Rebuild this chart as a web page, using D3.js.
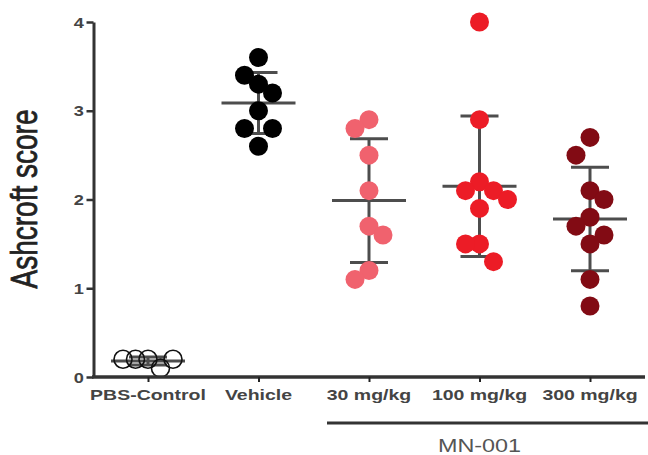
<!DOCTYPE html>
<html lang="en">
<head>
<meta charset="utf-8">
<title>Ashcroft score</title>
<script src="https://cdn.jsdelivr.net/npm/d3@7"></script>
<style>
  body { margin: 0; background: #fff; }
  text { font-family: "Liberation Sans", Arial, sans-serif; }
</style>
</head>
<body>
<script>
// groups on the x axis
var categories = ["PBS-Control", "Vehicle", "30 mg/kg", "100 mg/kg", "300 mg/kg"];

// Ashcroft score of each animal
var pbsValues     = [0.2, 0.2, 0.1, 0.2, 0.2];
var vehicleValues = [3.6, 3.4, 3.3, 3.2, 3.0, 2.8, 2.8, 2.6];
var mn30Values    = [2.9, 2.8, 2.5, 2.1, 1.7, 1.6, 1.2, 1.1];
var mn100Values   = [4.0, 2.9, 2.2, 2.1, 2.1, 2.0, 1.9, 1.5, 1.5, 1.3];
var mn300Values   = [2.7, 2.5, 2.1, 2.0, 1.8, 1.7, 1.6, 1.5, 1.1, 0.8];

var groupValues = [pbsValues, vehicleValues, mn30Values, mn100Values, mn300Values];
var groupColors = ["none", "#000000", "#f0626e", "#ec1c26", "#820b14"];

var yTicks = [0, 1, 2, 3, 4];
var yLabel = "Ashcroft score";
var bracketLabel = "MN-001";
var bracketGroups = ["30 mg/kg", "100 mg/kg", "300 mg/kg"];

var w = 648, h = 455;
var stretch = 1.3;   // the text in the picture is drawn wide
var r = 9.5;

var svg = d3.select("body").append("svg")
    .attr("width", w)
    .attr("height", h);

var yScale = d3.scaleLinear().domain([0, 4]).range([377, 22]);
var xScale = d3.scalePoint().domain(categories).range([148, 590]);

// simple scatter layout: points close in y may not share x
function swarm(values) {
    var W = 14, H = 20;
    var placed = [];
    var side = -1;
    values.forEach(function(v) {
        var yv = yScale(v);
        var ints = placed.filter(function(p) { return Math.abs(p.y - yv) < H; })
            .map(function(p) { return [p.dx - W, p.dx + W]; });
        var cands = [0];
        ints.forEach(function(i) { cands.push(i[0], i[1]); });
        var ok = cands.filter(function(c) {
            return ints.every(function(i) { return c <= i[0] + 1e-6 || c >= i[1] - 1e-6; });
        });
        var best = d3.min(ok, function(c) { return Math.abs(c); });
        var near = ok.filter(function(c) { return Math.abs(Math.abs(c) - best) < 0.5; });
        var dx;
        if (best > 0.5 && near.some(function(c) { return c < 0; }) && near.some(function(c) { return c > 0; })) {
            dx = side * best;
            side = -side;
        } else {
            dx = near[0];
        }
        placed.push({ v: v, y: yv, dx: dx });
    });
    var lo = d3.min(placed, function(p) { return p.dx; });
    var hi = d3.max(placed, function(p) { return p.dx; });
    var half = (hi - lo) / 2;
    if (half > 25) {
        var mid = (hi + lo) / 2;
        placed.forEach(function(p) { p.dx = (p.dx - mid) * 25 / half; });
    }
    return placed;
}

var groups = categories.map(function(c, i) {
    var vals = groupValues[i];
    return {
        name: c,
        color: groupColors[i],
        mean: d3.mean(vals),
        sd: d3.deviation(vals),
        points: swarm(vals)
    };
});

// mean and SD bars
var bars = svg.append("g")
    .attr("stroke", "#4d4d4d")
    .attr("stroke-width", 3);

groups.forEach(function(g) {
    var cx = xScale(g.name);
    bars.append("line")
        .attr("x1", cx - 37).attr("x2", cx + 37)
        .attr("y1", yScale(g.mean)).attr("y2", yScale(g.mean));
    bars.append("line")
        .attr("x1", cx).attr("x2", cx)
        .attr("y1", yScale(g.mean + g.sd)).attr("y2", yScale(g.mean - g.sd));
    [g.mean + g.sd, g.mean - g.sd].forEach(function(v) {
        bars.append("line")
            .attr("x1", cx - 19).attr("x2", cx + 19)
            .attr("y1", yScale(v)).attr("y2", yScale(v));
    });
});

// dots
groups.forEach(function(g) {
    svg.append("g").selectAll("circle")
        .data(g.points)
        .enter()
        .append("circle")
        .attr("cx", function(d) { return xScale(g.name) + d.dx; })
        .attr("cy", function(d) { return yScale(d.v); })
        .attr("r", g.color === "none" ? r - 0.5 : r)
        .attr("fill", g.color)
        .attr("stroke", g.color === "none" ? "#111" : "none")
        .attr("stroke-width", 1.6);
});

// Y axis
var yAxis = d3.axisLeft(yScale)
    .tickValues(yTicks)
    .tickFormat(d3.format("d"))
    .tickSize(7)
    .tickSizeOuter(0)
    .tickPadding(0);

var yg = svg.append("g")
    .attr("transform", "translate(93.5,0)")
    .call(yAxis);
yg.select(".domain").attr("stroke", "#333").attr("stroke-width", 3);
yg.selectAll(".tick line").attr("stroke", "#333").attr("stroke-width", 2.5);
yg.selectAll(".tick text")
    .attr("x", -7.5)
    .attr("dy", "0.36em")
    .attr("transform", "scale(" + stretch + ",1)")
    .attr("fill", "#444")
    .attr("font-size", 14)
    .attr("font-weight", "bold")
    .attr("font-family", "Liberation Sans, Arial, sans-serif");

// X axis
var xAxis = d3.axisBottom(xScale)
    .tickSize(5)
    .tickSizeOuter(0)
    .tickFormat("");

var xg = svg.append("g")
    .attr("transform", "translate(0,377)")
    .call(xAxis);
xg.select(".domain").attr("d", "M92,0H645").attr("stroke", "#333").attr("stroke-width", 3.5);
xg.selectAll(".tick line").attr("stroke", "#222").attr("stroke-width", 2);

svg.append("g").selectAll("text")
    .data(categories)
    .enter()
    .append("text")
    .attr("transform", function(d) { return "translate(" + xScale(d) + ",400) scale(" + stretch + ",1)"; })
    .attr("text-anchor", "middle")
    .attr("font-size", 15)
    .attr("font-weight", "bold")
    .attr("fill", "#444")
    .text(function(d) { return d; });

// Y label
svg.append("text")
    .attr("transform", "translate(37,199) scale(" + stretch + ",1) rotate(-90)")
    .attr("text-anchor", "middle")
    .attr("font-size", 28)
    .attr("fill", "#222")
    .attr("stroke", "#222")
    .attr("stroke-width", 0.6)
    .text(yLabel);

// MN-001 bracket
var bx0 = xScale(bracketGroups[0]) - 42;
svg.append("line")
    .attr("x1", bx0).attr("x2", w)
    .attr("y1", 423).attr("y2", 423)
    .attr("stroke", "#333")
    .attr("stroke-width", 3);

svg.append("text")
    .attr("transform", "translate(" + xScale(bracketGroups[1]) + ",452) scale(" + stretch + ",1)")
    .attr("text-anchor", "middle")
    .attr("font-size", 18)
    .attr("fill", "#555")
    .text(bracketLabel);
</script>
</body>
</html>
